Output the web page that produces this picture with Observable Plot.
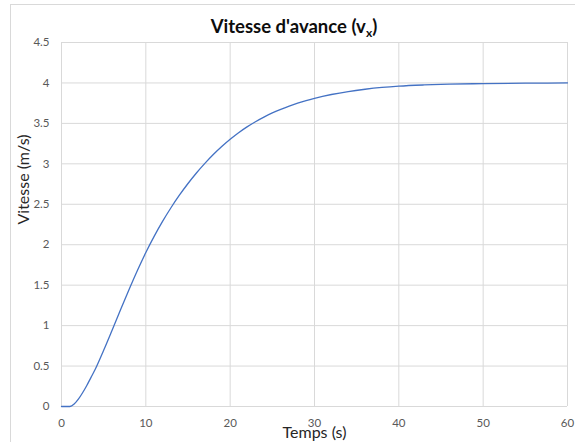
<!DOCTYPE html>
<html>
<head>
<meta charset="utf-8">
<script src="https://cdn.jsdelivr.net/npm/d3@7"></script>
<script src="https://cdn.jsdelivr.net/npm/@observablehq/plot@0.6"></script>
<style>
  html, body { margin: 0; padding: 0; background: #fff; overflow: hidden; }
  #wrap { position: relative; width: 575px; height: 442px; font-family: Lato, "Open Sans", sans-serif; }
  #border { position: absolute; left: 10px; top: 4px; width: 640px; height: 500px; border: 1px solid #d9d9d9; box-sizing: border-box; }
  #title { position: absolute; left: 0; top: 15px; width: 575px; text-align: center; font-weight: bold; font-size: 18.5px; line-height: 1.2; color: #0d0d0d; padding-left: 13px; box-sizing: border-box; }
  #title sub { font-size: 12px; vertical-align: -4px; line-height: 0; }
  #chart { position: absolute; left: 0; top: 0; }
</style>
</head>
<body>
<div id="wrap">
  <div id="border"></div>
  <div id="chart"></div>
  <div id="title">Vitesse d'avance (v<sub>x</sub>)</div>
</div>
<script>
// Time (s)
const temps = [0, 1, 1.5, 2, 2.5, 3, 3.5, 4, 5, 6, 7, 8, 9, 10, 11, 12, 13, 14, 15, 16, 17, 18, 19, 20, 21, 22, 23, 24, 25, 26, 27, 28, 29, 30, 32, 34, 36, 38, 40, 43, 46, 50, 55, 60];
// Speed (m/s)
const vitesse = [0, 0, 0.03, 0.09, 0.17, 0.26, 0.36, 0.46, 0.695, 0.943, 1.195, 1.443, 1.681, 1.903, 2.106, 2.291, 2.46, 2.615, 2.757, 2.887, 3.006, 3.115, 3.214, 3.304, 3.385, 3.457, 3.521, 3.578, 3.629, 3.674, 3.714, 3.75, 3.782, 3.81, 3.857, 3.894, 3.922, 3.944, 3.96, 3.975, 3.985, 3.992, 3.997, 4.0];
const xTicks = [0, 10, 20, 30, 40, 50, 60];
const yTicks = [0, 0.5, 1, 1.5, 2, 2.5, 3, 3.5, 4, 4.5];
const xLabel = "Temps (s)";
const yLabel = "Vitesse (m/s)";

const data = temps.map((t, i) => ({t, v: vitesse[i]}));

const chart = Plot.plot({
  width: 575,
  height: 442,
  marginLeft: 61,
  marginRight: 8,
  marginTop: 42,
  marginBottom: 36,
  style: {fontFamily: "Lato, 'Open Sans', sans-serif", fontSize: "11.5px", color: "#595959", background: "transparent"},
  x: {domain: [0, 60], ticks: xTicks, label: null},
  y: {domain: [0, 4.5], ticks: yTicks, label: null},
  marks: [
    Plot.gridX(xTicks, {stroke: "#d9d9d9", strokeOpacity: 1}),
    Plot.gridY(yTicks, {stroke: "#d9d9d9", strokeOpacity: 1}),
    Plot.axisX(xTicks, {tickSize: 0, tickPadding: 12, tickFormat: d => String(d), fill: "#595959", fontSize: 11.5}),
    Plot.axisY(yTicks, {tickSize: 0, tickPadding: 12, tickFormat: d => String(d), fill: "#595959", fontSize: 11.5}),
    Plot.line(data, {x: "t", y: "v", stroke: "#4472C4", strokeWidth: 1.3, curve: "monotone-x"}),
    Plot.text([xLabel], {frameAnchor: "bottom", dy: 26, lineAnchor: "middle", text: d => d, fontSize: 16, fill: "#262626"}),
    Plot.text([yLabel], {frameAnchor: "left", dx: -38, rotate: -90, lineAnchor: "middle", text: d => d, fontSize: 16, fill: "#262626"})
  ]
});
document.getElementById("chart").appendChild(chart);
</script>
</body>
</html>
